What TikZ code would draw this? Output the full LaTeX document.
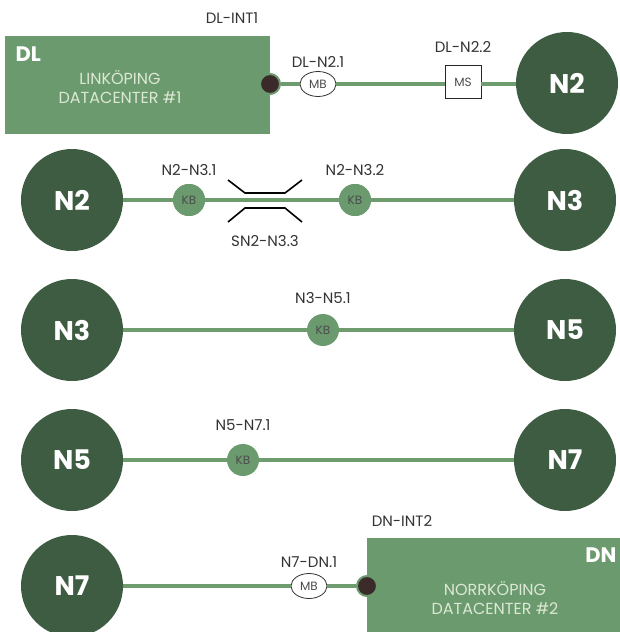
\documentclass[tikz,border=0pt]{standalone}
\usepackage{fontspec}
\setmainfont{Poppins}
\begin{document}
\begin{tikzpicture}[x=1pt,y=-1pt,
  lnk/.style={draw=linkc,line width=3.5pt},
  hub/.style={circle,fill=hubc,minimum size=102pt,inner sep=0pt,text=white,font=\fontsize{27}{27}\selectfont\bfseries},
  kb/.style={circle,fill=boxc,minimum size=32pt,inner sep=0pt,text=black!70,font=\fontsize{12}{12}\selectfont},
  mb/.style={ellipse,draw=black!80,fill=white,line width=0.8pt,minimum width=36pt,minimum height=25pt,inner sep=0pt,text=black!70,font=\fontsize{12}{12}\selectfont},
  ms/.style={rectangle,draw=black!85,fill=white,line width=0.9pt,minimum width=36pt,minimum height=33pt,inner sep=0pt,text=black!70,font=\fontsize{12}{12}\selectfont},
  dot/.style={circle,fill=dotc,draw=boxc,line width=2pt,minimum size=20pt,inner sep=0pt},
  lbl/.style={text=black!80,font=\fontsize{15}{15}\selectfont},
  dc/.style={rectangle,fill=boxc,inner sep=0pt,anchor=north west},
  dctext/.style={text=dctc,align=center,font=\fontsize{16}{19}\selectfont},
  dcname/.style={text=white,font=\fontsize{21}{21}\selectfont\bfseries},
  sw/.style={draw=black,line width=1.6pt}
]
\usetikzlibrary{shapes.geometric}
\definecolor{hubc}{HTML}{3D5C42}
\definecolor{linkc}{HTML}{6F9C6F}
\definecolor{boxc}{HTML}{6B9A6E}
\definecolor{dotc}{HTML}{3A2A2A}
\definecolor{dctc}{HTML}{DCE8D4}
\useasboundingbox (0,0) rectangle (620,632);

% Row 1
\node[dc,minimum width=265pt,minimum height=98pt] (dl) at (5,36) {};
\node[dcname,anchor=west] (dlname) at (12,54) {DL};
\node[dctext] (dltext) at (120,87) {LINKÖPING\\DATACENTER \#1};
\node[lbl] (dlintl) at (232,18) {DL-INT1};
\node[hub] (n2a) at (567,83) {N2};
\node[mb] (mb1) at (318,84) {MB};
\node[ms] (ms1) at (463,82) {MS};
\node[lbl] (mb1l) at (318,62) {DL-N2.1};
\node[lbl] (ms1l) at (463,47) {DL-N2.2};
\node[dot] (dot1) at (270,84) {};
\draw[lnk] (dot1.east) -- (mb1.west);
\draw[lnk] (mb1.east) -- (ms1.west |- mb1.east);
\draw[lnk] (ms1.east |- mb1.east) -- (n2a.west |- mb1.east);

% Row 2
\node[hub] (n2b) at (72,200) {N2};
\node[hub] (n3a) at (565,200) {N3};
\node[kb] (kb1) at (189,200) {KB};
\node[kb] (kb2) at (355,200) {KB};
\draw[lnk] (n2b) -- (kb1);
\draw[lnk] (kb1) -- (kb2);
\draw[lnk] (kb2) -- (n3a);
\node[kb] at (189,200) {KB};
\node[kb] at (355,200) {KB};
\node[lbl] (kb1l) at (189,170) {N2-N3.1};
\node[lbl] (kb2l) at (355,170) {N2-N3.2};
\coordinate (s1) at (228,180); \coordinate (s2) at (245,193);
\coordinate (s3) at (285,193); \coordinate (s4) at (302,180);
\coordinate (t1) at (228,222); \coordinate (t2) at (245,208);
\coordinate (t3) at (285,208); \coordinate (t4) at (302,222);
\draw[sw] (s1) -- (s2) -- (s3) -- (s4);
\draw[sw] (t1) -- (t2) -- (t3) -- (t4);
\node[lbl] (swl) at (265,241) {SN2-N3.3};

% Row 3
\node[hub] (n3b) at (72,330) {N3};
\node[hub] (n5a) at (565,330) {N5};
\node[kb] (kb3) at (323,330) {KB};
\draw[lnk] (n3b) -- (kb3);
\draw[lnk] (kb3) -- (n5a);
\node[lbl] (kb3l) at (323,298) {N3-N5.1};

% Row 4
\node[hub] (n5b) at (72,460) {N5};
\node[hub] (n7a) at (565,460) {N7};
\node[kb] (kb4) at (243,460) {KB};
\draw[lnk] (n5b) -- (kb4);
\draw[lnk] (kb4) -- (n7a);
\node[lbl] (kb4l) at (243,425) {N5-N7.1};

% Row 5
\node[hub] (n7b) at (72,586) {N7};
\node[dc,minimum width=253pt,minimum height=94pt] (dn) at (367,538) {};
\node[dcname,anchor=east] (dnname) at (620,555) {DN};
\node[dctext] (dntext) at (495,598) {NORRKÖPING\\DATACENTER \#2};
\node[lbl] (dnintl) at (402,521) {DN-INT2};
\node[mb] (mb2) at (309,586) {MB};
\node[lbl] (mb2l) at (309,562) {N7-DN.1};
\node[dot] (dot2) at (367,586) {};
\draw[lnk] (n7b) -- (mb2);
\draw[lnk] (mb2) -- (dot2);
\end{tikzpicture}
\end{document}
